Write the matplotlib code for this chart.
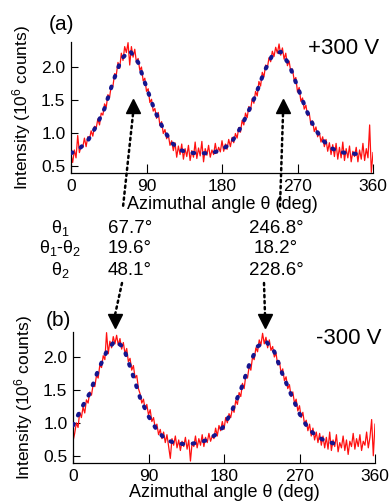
import numpy as np
import matplotlib
matplotlib.use("Agg")
import matplotlib.pyplot as plt

plt.rcParams['font.family'] = ['Liberation Sans', 'DejaVu Sans']
plt.rcParams['mathtext.fontset'] = 'custom'
plt.rcParams['mathtext.rm'] = 'Liberation Sans'
plt.rcParams['mathtext.it'] = 'Liberation Sans'
plt.rcParams['mathtext.default'] = 'regular'

# measured intensity, 2 deg steps (10^6 counts)
angle_raw = np.arange(0, 361, 2)
raw_a = [0.66, 0.55, 0.74, 0.62, 0.96, 0.70, 0.80, 0.78, 0.92, 0.79,
         0.94, 0.90, 1.03, 0.95, 1.10, 1.07, 1.21, 1.12, 1.30, 1.27,
         1.44, 1.39, 1.58, 1.54, 1.72, 1.71, 1.90, 1.88, 2.07, 1.98,
         2.21, 2.10, 2.31, 2.22, 2.37, 2.03, 2.31, 2.15, 2.27, 2.07,
         2.13, 1.95, 2.00, 1.79, 1.83, 1.63, 1.67, 1.46, 1.51, 1.33,
         1.37, 1.22, 1.31, 1.11, 1.17, 0.99, 1.05, 0.91, 0.97, 0.81,
         0.88, 0.73, 0.85, 0.63, 0.80, 0.67, 0.83, 0.60, 0.76, 0.64,
         0.81, 0.58, 0.73, 0.63, 0.86, 0.61, 0.77, 0.65, 0.87, 0.56,
         0.76, 0.66, 0.81, 0.63, 0.74, 0.67, 0.84, 0.69, 0.78, 0.71,
         0.88, 0.72, 0.83, 0.75, 0.90, 0.79, 0.93, 0.85, 0.99, 0.92,
         1.08, 1.01, 1.19, 1.12, 1.30, 1.23, 1.40, 1.34, 1.52, 1.45,
         1.63, 1.56, 1.78, 1.71, 1.92, 1.85, 2.03, 1.98, 2.14, 2.08,
         2.24, 2.16, 2.30, 2.21, 2.35, 2.18, 2.29, 2.12, 2.21, 2.02,
         2.09, 1.93, 1.97, 1.80, 1.84, 1.62, 1.69, 1.48, 1.53, 1.36,
         1.42, 1.26, 1.30, 1.12, 1.18, 1.02, 1.09, 0.94, 1.01, 0.86,
         0.94, 0.79, 0.90, 0.72, 0.85, 0.67, 0.82, 0.64, 0.84, 0.60,
         0.78, 0.62, 0.86, 0.58, 0.76, 0.62, 0.80, 0.56, 0.72, 0.64,
         0.78, 0.56, 0.74, 0.60, 0.84, 0.58, 0.76, 0.62, 1.12, 0.40,
         0.70]
raw_b = [0.72, 0.84, 1.00, 0.93, 1.16, 1.08, 1.24, 1.15, 1.35, 1.30,
         1.47, 1.42, 1.58, 1.55, 1.72, 1.68, 1.88, 1.84, 2.02, 1.96,
         2.37, 2.05, 2.24, 2.14, 2.31, 2.20, 2.33, 2.18, 2.28, 2.12,
         2.22, 2.05, 2.13, 1.93, 1.98, 1.80, 1.87, 1.68, 1.72, 1.52,
         1.44, 1.30, 1.36, 1.20, 1.28, 1.12, 1.20, 1.02, 1.08, 0.92,
         0.98, 0.82, 0.90, 0.76, 0.86, 0.70, 0.82, 0.64, 0.46, 0.76,
         0.66, 0.80, 0.62, 0.74, 0.58, 0.72, 0.64, 0.78, 0.60, 0.74,
         0.42, 0.70, 0.64, 0.80, 0.62, 0.76, 0.66, 0.82, 0.64, 0.78,
         0.70, 0.84, 0.72, 0.80, 0.76, 0.92, 0.80, 0.96, 0.88, 1.02,
         0.90, 1.08, 1.00, 1.14, 1.08, 1.22, 1.16, 1.34, 1.28, 1.46,
         1.40, 1.60, 1.52, 1.72, 1.68, 1.86, 1.80, 2.00, 1.96, 2.14,
         2.08, 2.26, 2.18, 2.36, 2.20, 2.30, 2.14, 2.26, 2.10, 2.16,
         2.00, 2.06, 1.88, 1.94, 1.76, 1.82, 1.64, 1.70, 1.52, 1.58,
         1.40, 1.47, 1.30, 1.36, 1.18, 1.26, 1.08, 1.16, 0.98, 1.04,
         0.88, 0.98, 0.80, 0.92, 0.74, 0.86, 0.70, 0.84, 0.66, 0.80,
         0.62, 0.78, 0.60, 0.86, 0.58, 0.74, 0.64, 0.82, 0.56, 0.70,
         0.62, 0.80, 0.58, 0.74, 0.52, 0.72, 0.64, 0.84, 0.60, 0.76,
         0.64, 0.82, 0.58, 0.72, 0.66, 0.86, 0.62, 0.78, 1.05, 0.50,
         0.98]

# fitted curves, 10 deg steps
angle_fit_a = np.arange(0, 341, 10)
fit_a = [0.69, 0.76, 0.88, 1.10, 1.37, 1.77, 2.12, 2.25, 2.07, 1.69,
         1.33, 1.06, 0.85, 0.74, 0.70, 0.69, 0.69, 0.70, 0.75, 0.83,
         1.03, 1.28, 1.57, 1.92, 2.18, 2.23, 2.04, 1.70, 1.36, 1.08,
         0.89, 0.77, 0.71, 0.69, 0.68]
angle_fit_b = np.arange(0, 321, 10)
fit_b = [0.96, 1.22, 1.45, 1.80, 2.08, 2.25, 2.15, 1.78, 1.38, 1.10,
         0.89, 0.75, 0.70, 0.68, 0.68, 0.70, 0.74, 0.82, 0.95, 1.20,
         1.50, 1.88, 2.16, 2.24, 2.08, 1.73, 1.43, 1.14, 0.92, 0.80,
         0.73, 0.69, 0.68]

rows = [r'$\theta_1$', r'$\theta_1$-$\theta_2$', r'$\theta_2$']
col_peak1 = ['67.7°', '19.6°', '48.1°']
col_peak2 = ['246.8°', '18.2°', '228.6°']

W, H = 391, 501
fig = plt.figure(figsize=(W / 100, H / 100), dpi=100)
ax_a = fig.add_axes([71 / W, 1 - 173 / H, 302 / W, 131 / H])
ax_b = fig.add_axes([73 / W, 1 - 463 / H, 302 / W, 131 / H])

for ax, raw, af, fit, volt, xl_y in [
        (ax_a, raw_a, angle_fit_a, fit_a, '+300 V', -0.175),
        (ax_b, raw_b, angle_fit_b, fit_b, '-300 V', -0.162)]:
    ax.plot(angle_raw, raw, color='#ff1010', lw=0.9, zorder=2)
    ax.plot(af, fit, color='#15158f', lw=3.0, ls=(0, (0.4, 2.3)),
            dash_capstyle='round', zorder=3)
    ax.set_xlim(0, 360)
    ax.set_ylim(0.39, 2.38)
    ax.set_xticks([0, 90, 180, 270, 360])
    ax.set_yticks([0.5, 1.0, 1.5, 2.0])
    ax.set_yticklabels(['0.5', '1.0', '1.5', '2.0'])
    ax.spines['top'].set_visible(False)
    ax.spines['right'].set_visible(False)
    for s in ['left', 'bottom']:
        ax.spines[s].set_linewidth(0.9)
    ax.tick_params(axis='x', direction='in', length=6.5, width=0.8, labelsize=12.5, pad=4)
    ax.tick_params(axis='y', direction='in', length=5, width=0.8, labelsize=12.5, pad=4)
    ax.set_xlabel('Azimuthal angle θ (deg)', fontsize=13)
    ax.set_ylabel(r'Intensity (10$^6$ counts)', fontsize=12.5)
    ax.xaxis.set_label_coords(0.5, xl_y)
    ax.yaxis.set_label_coords(-0.125, 0.5)
    ax.patch.set_alpha(0)
    ax.text(1.02, 0.95, volt, transform=ax.transAxes, ha='right', va='center', fontsize=16)

fig.text(49 / W, 1 - 25 / H, '(a)', fontsize=15, va='center')
fig.text(46 / W, 1 - 321 / H, '(b)', fontsize=15, va='center')

for i, y in enumerate([233, 253, 275]):
    fig.text(60 / W, 1 - y / H, rows[i], ha='center', va='baseline', fontsize=13)
    fig.text(108 / W, 1 - y / H, col_peak1[i], ha='left', va='baseline', fontsize=13.5)
    fig.text(276 / W, 1 - y / H, col_peak2[i], ha='center', va='baseline', fontsize=13.5)

# arrows linking the peak positions
ov = fig.add_axes([0, 0, 1, 1], zorder=5)
ov.set_xlim(0, W)
ov.set_ylim(H, 0)
ov.axis('off')
dots = dict(color='k', lw=1.8, ls=(0, (0.9, 1.5)), dash_capstyle='round')
ov.plot([133, 123], [114, 207], **dots)
ov.plot([283, 280], [114, 207], **dots)
ov.plot([122, 115], [283, 315], **dots)
ov.plot([264, 265], [283, 315], **dots)
ov.plot([133, 283], [106, 106], ls='none', marker='^', ms=10.5, color='k')
ov.plot([115, 265], [321, 321], ls='none', marker='v', ms=10.5, color='k')

plt.savefig('out.png', dpi=100)
plt.close()
